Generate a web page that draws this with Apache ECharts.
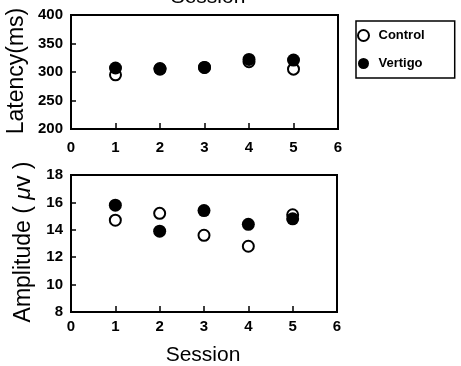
<!DOCTYPE html>
<html>
<head>
<meta charset="utf-8">
<script src="https://cdn.jsdelivr.net/npm/echarts@6/dist/echarts.min.js"></script>
<style>html,body{margin:0;padding:0;background:#fff}#c{width:461px;height:366px}</style>
</head>
<body>
<div id="c"></div>
<script>
const sessions = [1, 2, 3, 4, 5];
const latencyControl = [295, 305, 308, 318, 305];
const latencyVertigo = [307, 306, 308, 322, 321];
const ampControl = [14.7, 15.2, 13.6, 12.8, 15.1];
const ampVertigo = [15.8, 13.9, 15.4, 14.4, 14.8];
const seriesNames = ['Control', 'Vertigo'];

const pairs = (xs, ys) => xs.map((x, i) => [x, ys[i]]);
const FONT = '"Liberation Sans", Arial, sans-serif';

const chart = echarts.init(document.getElementById('c'), null, {renderer: 'canvas'});

function xAxis(gi, margin) {
  return {
    gridIndex: gi, type: 'value', min: 0, max: 6, interval: 1,
    axisLine: {lineStyle: {color: '#000', width: 2}},
    axisTick: {inside: true, length: 6, lineStyle: {color: '#000', width: 1.5}},
    axisLabel: {color: '#000', fontSize: 15, fontWeight: 'bold', fontFamily: FONT, margin: margin},
    splitLine: {show: false}
  };
}
function yAxis(gi, min, max, interval) {
  return {
    gridIndex: gi, type: 'value', min: min, max: max, interval: interval,
    axisLine: {show: true, lineStyle: {color: '#000', width: 2}},
    axisTick: {show: true, inside: true, length: 5, lineStyle: {color: '#000', width: 1.5}},
    axisLabel: {color: '#000', fontSize: 15, fontWeight: 'bold', fontFamily: FONT, margin: 8},
    splitLine: {show: false}
  };
}
const controlStyle = {color: '#fff', borderColor: '#000', borderWidth: 2, opacity: 1};
const vertigoStyle = {color: '#000', opacity: 1};

chart.setOption({
  animation: false,
  backgroundColor: '#fff',
  grid: [
    {left: 71, top: 15, width: 267, height: 114, show: true, borderColor: '#000', borderWidth: 2, backgroundColor: 'transparent'},
    {left: 71, top: 175, width: 266, height: 137, show: true, borderColor: '#000', borderWidth: 2, backgroundColor: 'transparent'}
  ],
  xAxis: [xAxis(0, 11), xAxis(1, 7)],
  yAxis: [yAxis(0, 200, 400, 50), yAxis(1, 8, 18, 2)],
  legend: {
    data: seriesNames,
    orient: 'vertical',
    left: 356, top: 21,
    padding: [8, 30, 8, 1],
    itemGap: 15,
    itemWidth: 20, itemHeight: 11,
    icon: 'circle',
    borderColor: '#000', borderWidth: 1.5,
    textStyle: {color: '#000', fontSize: 13, fontWeight: 'bold', fontFamily: FONT}
  },
  series: [
    {name: seriesNames[0], type: 'scatter', xAxisIndex: 0, yAxisIndex: 0, symbol: 'circle', symbolSize: 11, itemStyle: controlStyle, data: pairs(sessions, latencyControl), z: 2},
    {name: seriesNames[1], type: 'scatter', xAxisIndex: 0, yAxisIndex: 0, symbol: 'circle', symbolSize: 13, itemStyle: vertigoStyle, data: pairs(sessions, latencyVertigo), z: 3},
    {name: seriesNames[0], type: 'scatter', xAxisIndex: 1, yAxisIndex: 1, symbol: 'circle', symbolSize: 11, itemStyle: controlStyle, data: pairs(sessions, ampControl), z: 2},
    {name: seriesNames[1], type: 'scatter', xAxisIndex: 1, yAxisIndex: 1, symbol: 'circle', symbolSize: 13, itemStyle: vertigoStyle, data: pairs(sessions, ampVertigo), z: 3}
  ],
  graphic: [
    {type: 'text', x: 208, y: -3, style: {text: 'Session', fill: '#000', font: '21px ' + FONT, textAlign: 'center', textVerticalAlign: 'middle'}},
    {type: 'text', x: 203, y: 355, style: {text: 'Session', fill: '#000', font: '21px ' + FONT, textAlign: 'center', textVerticalAlign: 'middle'}},
    {type: 'text', x: 17, y: 71, rotation: Math.PI / 2, style: {text: 'Latency(ms)', fill: '#000', font: '23px ' + FONT, textAlign: 'center', textVerticalAlign: 'middle'}},
    {type: 'text', x: 24, y: 242, rotation: Math.PI / 2, style: {text: 'Amplitude ( {i|μ}v )', fill: '#000', font: '23px ' + FONT, textAlign: 'center', textVerticalAlign: 'middle', rich: {i: {fontStyle: 'italic', fontSize: 23, fontFamily: FONT}}}}
  ]
});
</script>
</body>
</html>
